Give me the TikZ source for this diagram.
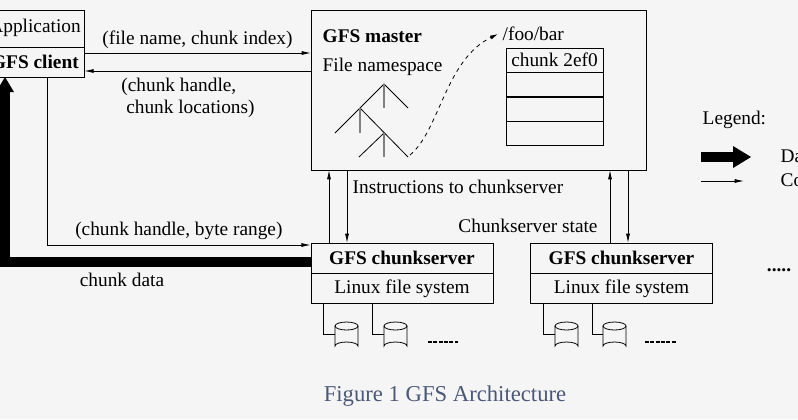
\documentclass[tikz,border=0pt]{standalone}
\usepackage{fontspec}
\setmainfont{Liberation Serif}
\usetikzlibrary{arrows.meta}
\definecolor{captioncol}{HTML}{4A5878}
\begin{document}
\begin{tikzpicture}[x=0.75pt,y=-0.75pt,font=\fontsize{14.5}{16}\selectfont]
      \tikzstyle{box}=[draw,rectangle,inner sep=0pt]
      \tikzstyle{ctrl}=[draw,line width=0.6pt,-{Latex[length=7pt,width=3pt]}]
      \tikzstyle{data}=[draw,line width=7pt]
      \tikzstyle{disk}=[draw,line width=0.6pt]
      \useasboundingbox (0,0) rectangle (798,419);
      \clip (0,0) rectangle (798,419);
      \fill[gray!8] (0,0) rectangle (798,419);
      % client and master
      \node[box,minimum width=85.5pt,minimum height=27.75pt] (app) at (27,28.5) {};
      \node[box,minimum width=85.5pt,minimum height=22.5pt] (client) at (27,62) {};
      \node[anchor=east,inner sep=0pt] (apptext) at (81,28) {Application};
      \node[anchor=east,inner sep=0pt] (clienttext) at (79,62) {\bfseries GFS client};
      \node[box,minimum width=251.25pt,minimum height=120pt] (master) at (478.5,90) {};
      \node[anchor=west] (mtitle) at (318,36) {\bfseries GFS master};
      \node[anchor=west] (ns) at (318,67) {File namespace};
      \node[anchor=west] (foo) at (498,34) {/foo/bar};
      \node[box,minimum width=72.75pt,minimum height=18pt] (row0) at (554.5,60) {chunk 2ef0};
      \node[box,minimum width=72.75pt,minimum height=18pt,anchor=north] (row1) at (row0.south) {};
      \node[box,minimum width=72.75pt,minimum height=18pt,anchor=north] (row2) at (row1.south) {};
      \node[box,minimum width=72.75pt,minimum height=18pt,anchor=north] (row3) at (row2.south) {};
      % namespace tree
      \coordinate (t1) at (384,84);
      \coordinate (t2) at (360,108);
      \coordinate (t3) at (384,133);
      \draw[line width=0.6pt] (335,133) -- (t1) -- (408,108);
      \draw[line width=0.6pt] (t2) -- (408,157);
      \draw[line width=0.6pt] (t3) -- (359,157);
      \draw[gray,line width=0.9pt] (t1) -- (384,108) (t2) -- (360,133) (t3) -- (384,157);
      \draw[dashed,line width=0.6pt,-{Latex[length=6pt,width=3pt]}] (410,155) .. controls (440,130) and (445,60) .. (foo.west);
      % chunkservers
      \node[box,minimum width=136.5pt,minimum height=22.5pt] (cs1) at (402,258) {\bfseries GFS chunkserver};
      \node[box,minimum width=136.5pt,minimum height=22.5pt,anchor=north] (fs1) at (cs1.south) {Linux file system};
      \node[box,minimum width=136.5pt,minimum height=22.5pt] (cs2) at (621.5,258) {\bfseries GFS chunkserver};
      \node[box,minimum width=136.5pt,minimum height=22.5pt,anchor=north] (fs2) at (cs2.south) {Linux file system};
      \node (dots) at (779,270) {\bfseries .....};
      % messages
      \path[ctrl] (84,53) -- node[above] {(file name, chunk index)} (311,53);
      \path[ctrl] (311,71) -- (client.east |- 0,71);
      \node[align=left] (locs) at (188,98) {(chunk handle,\\\ chunk locations)};
      \path[ctrl] (47,77) -- (47,245) -- node[above] {(chunk handle, byte range)} (cs1.west |- 0,245);
      \path[data] (311,262) -- (5,262) -- (5,90);
      \fill (-4,92) -- (14,92) -- (5,77) -- cycle;
      \node (cdata) at (122,280) {chunk data};
      \path[ctrl] (329,243) -- (329,170);
      \path[ctrl] (347,170) -- (347,243);
      \node[anchor=west] (instr) at (348,187) {Instructions to chunkserver};
      \path[ctrl] (610,243) -- (610,170);
      \path[ctrl] (628,170) -- (628,243);
      \node (state) at (528,226) {Chunkserver state};
      % disks
      \foreach \x/\n in {335/a,384/b,555/c,603/d} {
        \draw[disk] (\x,326) -- (\x,346) arc[start angle=180,end angle=360,x radius=11.5,y radius=4] -- (\x+23,326);
        \draw[disk] (\x+11.5,326) ellipse[x radius=11.5,y radius=4];
        \coordinate (disk\n) at (\x,334);
      }
      \draw[disk] (323,303) |- (diska);
      \draw[disk] (372,303) |- (diskb);
      \draw[disk] (543,303) |- (diskc);
      \draw[disk] (592,303) |- (diskd);
      \draw[line width=1.5pt,dash pattern=on 3pt off 1pt] (428,342) -- (458,342);
      \draw[line width=1.5pt,dash pattern=on 3pt off 1pt] (645,342) -- (676,342);
      % legend
      \node[anchor=west] (legend) at (698,120) {Legend:};
      \path[draw,line width=8pt] (701,157) -- (735,157);
      \fill (733,146) -- (751,157) -- (733,168) -- cycle;
      \node[anchor=west] (ldata) at (776,158) {Data messages};
      \path[ctrl] (701,181) -- (744,181);
      \node[anchor=west] (lctrl) at (776,182) {Control messages};
      % caption
      \node[text=captioncol,font=\fontsize{17}{19}\selectfont] (caption) at (445,396) {Figure 1 GFS Architecture};
    \end{tikzpicture}
\end{document}
